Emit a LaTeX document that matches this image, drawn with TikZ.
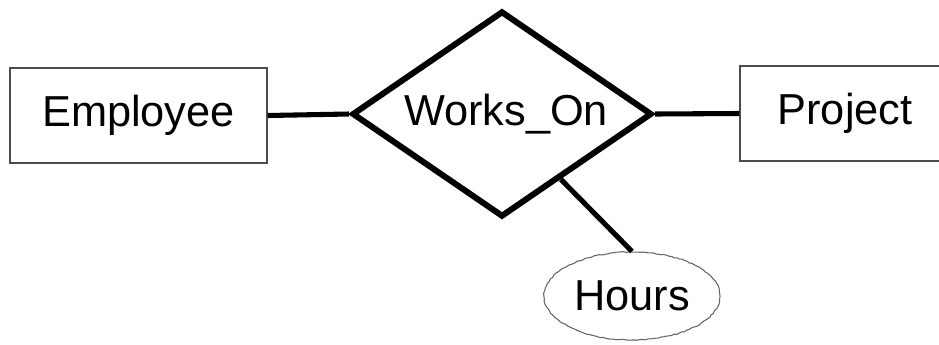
\documentclass[tikz,border=0pt]{standalone}
\usepackage{fontspec}
\setmainfont{Liberation Sans}
\usetikzlibrary{shapes.geometric,decorations.pathmorphing}
\begin{document}
\begin{tikzpicture}[x=0.75pt,y=-0.75pt]
\tikzstyle{every node}=[font=\fontsize{32.5}{38}\selectfont,inner sep=0pt]
\tikzstyle{entity}=[rectangle,draw=black!70,line width=1.1pt,minimum width=192.75pt,minimum height=71.25pt]
\tikzstyle{relation}=[diamond,aspect=1.456,draw,line width=4.5pt,minimum width=225pt,minimum height=154.5pt]
\tikzstyle{attrib}=[ellipse,draw=black!60,line width=0.8pt,decorate,decoration={random steps,segment length=2pt,amplitude=0.4pt},minimum width=132pt,minimum height=66pt]
\tikzstyle{link}=[line width=3.8pt]
\useasboundingbox (0,0) rectangle (939,344);
\node[entity] (employee) at (138.5,115.5) {Employee};
\node[relation] (works) at (502,114) {\hspace{6pt}Works\_On};
\node[entity,minimum width=157.5pt] (project) at (845,113.5) {Project};
\node[attrib] (hours) at (632,296) {Hours};
\draw[link] (employee.east) -- (works.west);
\draw[link] (works.east) -- (project.west);
\draw[link] (works.-48) -- (hours.north);
\end{tikzpicture}
\end{document}
